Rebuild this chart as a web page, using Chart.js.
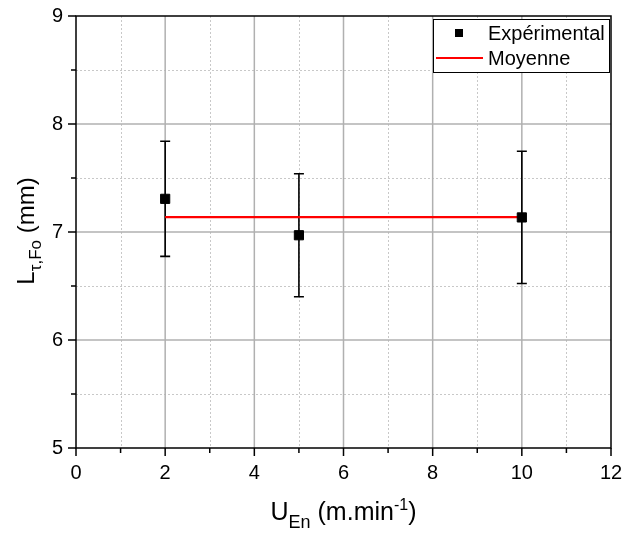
<!DOCTYPE html>
<html>
<head>
<meta charset="utf-8">
<script src="https://cdn.jsdelivr.net/npm/chart.js@4/dist/chart.umd.min.js"></script>
<style>
html,body{margin:0;padding:0;background:#fff;}
#wrap{width:627px;height:537px;position:relative;}
</style>
</head>
<body>
<div id="wrap"><canvas id="c" width="627" height="537"></canvas></div>
<script>
// ---- data ----
const xValues = [2, 5, 10];
const yValues = [7.307, 6.97, 7.135];
const yErrors = [0.533, 0.57, 0.612];
const meanX = [2, 10];
const meanValue = 7.137;
const xTickValues = [0, 2, 4, 6, 8, 10, 12];
const yTickValues = [5, 6, 7, 8, 9];
const xMinorValues = [1, 3, 5, 7, 9, 11];
const yMinorValues = [5.5, 6.5, 7.5, 8.5];
const legendLabels = ['Expérimental', 'Moyenne'];

const FONT = "'Liberation Sans', Arial, sans-serif";

function richText(ctx, parts, x, y, align) {
  let total = 0;
  parts.forEach(p => { ctx.font = p[1] + 'px ' + FONT; total += ctx.measureText(p[0]).width; });
  let cx = align === 'center' ? x - total / 2 : x;
  ctx.textAlign = 'left';
  ctx.textBaseline = 'alphabetic';
  parts.forEach(p => {
    ctx.font = p[1] + 'px ' + FONT;
    ctx.fillText(p[0], cx, y + p[2]);
    cx += ctx.measureText(p[0]).width;
  });
}

const decorPlugin = {
  id: 'decor',
  beforeDatasetsDraw(chart) {
    const {ctx, chartArea: a, scales: {x, y}} = chart;
    ctx.save();
    ctx.strokeStyle = '#c8c8c8';
    ctx.lineWidth = 1;
    ctx.setLineDash([2, 2]);
    xMinorValues.forEach(v => {
      const px = Math.round(x.getPixelForValue(v)) + 0.5;
      ctx.beginPath(); ctx.moveTo(px, a.top); ctx.lineTo(px, a.bottom); ctx.stroke();
    });
    yMinorValues.forEach(v => {
      const py = Math.round(y.getPixelForValue(v)) + 0.5;
      ctx.beginPath(); ctx.moveTo(a.left, py); ctx.lineTo(a.right, py); ctx.stroke();
    });
    ctx.setLineDash([]);
    ctx.strokeStyle = '#b0b0b0';
    ctx.lineWidth = 1.5;
    xTickValues.slice(1, -1).forEach(v => {
      const px = x.getPixelForValue(v);
      ctx.beginPath(); ctx.moveTo(px, a.top); ctx.lineTo(px, a.bottom); ctx.stroke();
    });
    yTickValues.slice(1, -1).forEach(v => {
      const py = y.getPixelForValue(v);
      ctx.beginPath(); ctx.moveTo(a.left, py); ctx.lineTo(a.right, py); ctx.stroke();
    });
    ctx.strokeStyle = '#000';
    ctx.lineWidth = 1.6;
    xValues.forEach((xv, i) => {
      const px = x.getPixelForValue(xv);
      const pt = y.getPixelForValue(yValues[i] + yErrors[i]);
      const pb = y.getPixelForValue(yValues[i] - yErrors[i]);
      ctx.beginPath();
      ctx.moveTo(px, pt); ctx.lineTo(px, pb);
      ctx.moveTo(px - 5, pt); ctx.lineTo(px + 5, pt);
      ctx.moveTo(px - 5, pb); ctx.lineTo(px + 5, pb);
      ctx.stroke();
    });
    ctx.restore();
  },
  afterDraw(chart) {
    const {ctx, chartArea: a, scales: {x, y}} = chart;
    ctx.save();
    ctx.strokeStyle = '#000';
    ctx.lineWidth = 1.5;
    ctx.strokeRect(a.left, a.top, a.right - a.left, a.bottom - a.top);
    ctx.beginPath();
    xTickValues.forEach(v => { const px = x.getPixelForValue(v); ctx.moveTo(px, a.bottom); ctx.lineTo(px, a.bottom + 8); });
    xMinorValues.forEach(v => { const px = x.getPixelForValue(v); ctx.moveTo(px, a.bottom); ctx.lineTo(px, a.bottom + 5); });
    yTickValues.forEach(v => { const py = y.getPixelForValue(v); ctx.moveTo(a.left, py); ctx.lineTo(a.left - 8, py); });
    yMinorValues.forEach(v => { const py = y.getPixelForValue(v); ctx.moveTo(a.left, py); ctx.lineTo(a.left - 5, py); });
    ctx.stroke();

    ctx.fillStyle = '#000';
    richText(ctx, [['U', 25, 0], ['En', 18, 8], [' (m.min', 25, 0], ['-1', 16, -10], [')', 25, 0]],
      (a.left + a.right) / 2, 520, 'center');
    ctx.save();
    ctx.translate(34, 231);
    ctx.rotate(-Math.PI / 2);
    richText(ctx, [['L', 24, 0], ['τ,Fo', 17, 7], [' (mm)', 24, 0]], 0, 0, 'center');
    ctx.restore();

    const lx = 433, ly = 19, lw = 176, lh = 53;
    ctx.fillStyle = '#fff';
    ctx.fillRect(lx, ly, lw, lh);
    ctx.strokeStyle = '#000';
    ctx.lineWidth = 1;
    ctx.strokeRect(lx + 0.5, ly + 0.5, lw, lh);
    ctx.fillStyle = '#000';
    ctx.fillRect(455, 29, 8, 8);
    ctx.strokeStyle = '#ff0000';
    ctx.lineWidth = 2;
    ctx.beginPath(); ctx.moveTo(436, 58); ctx.lineTo(483, 58); ctx.stroke();
    ctx.fillStyle = '#000';
    ctx.font = '20px ' + FONT;
    ctx.textAlign = 'left';
    ctx.textBaseline = 'alphabetic';
    ctx.fillText(legendLabels[0], 488, 40);
    ctx.fillText(legendLabels[1], 488, 65);
    ctx.restore();
  }
};

new Chart(document.getElementById('c'), {
  type: 'scatter',
  data: {
    datasets: [
      {
        label: legendLabels[0],
        data: xValues.map((xv, i) => ({x: xv, y: yValues[i]})),
        pointStyle: 'rect',
        pointRadius: 6.5,
        pointBackgroundColor: '#000',
        pointBorderColor: '#000',
        pointBorderWidth: 1,
        order: 0
      },
      {
        label: legendLabels[1],
        type: 'line',
        data: meanX.map(xv => ({x: xv, y: meanValue})),
        borderColor: '#ff0000',
        borderWidth: 2.2,
        pointRadius: 0,
        fill: false,
        order: 1
      }
    ]
  },
  options: {
    responsive: false,
    animation: false,
    devicePixelRatio: 1,
    layout: {padding: {top: 16, right: 16, left: 0, bottom: 0}},
    plugins: {legend: {display: false}, tooltip: {enabled: false}},
    scales: {
      x: {
        type: 'linear', min: 0, max: 12,
        afterBuildTicks(s) { s.ticks = xTickValues.map(v => ({value: v})); },
        afterFit(s) { s.height = 89; s.paddingLeft = 0; s.paddingRight = 0; },
        ticks: {color: '#000', font: {family: FONT, size: 20}, padding: 13, maxRotation: 0, autoSkip: false},
        grid: {display: false, drawTicks: false},
        border: {display: false}
      },
      y: {
        type: 'linear', min: 5, max: 9,
        afterBuildTicks(s) { s.ticks = yTickValues.map(v => ({value: v})); },
        afterFit(s) { s.width = 76; s.paddingTop = 0; s.paddingBottom = 0; },
        ticks: {color: '#000', font: {family: FONT, size: 20}, padding: 13, autoSkip: false},
        grid: {display: false, drawTicks: false},
        border: {display: false}
      }
    }
  },
  plugins: [decorPlugin]
});
</script>
</body>
</html>
